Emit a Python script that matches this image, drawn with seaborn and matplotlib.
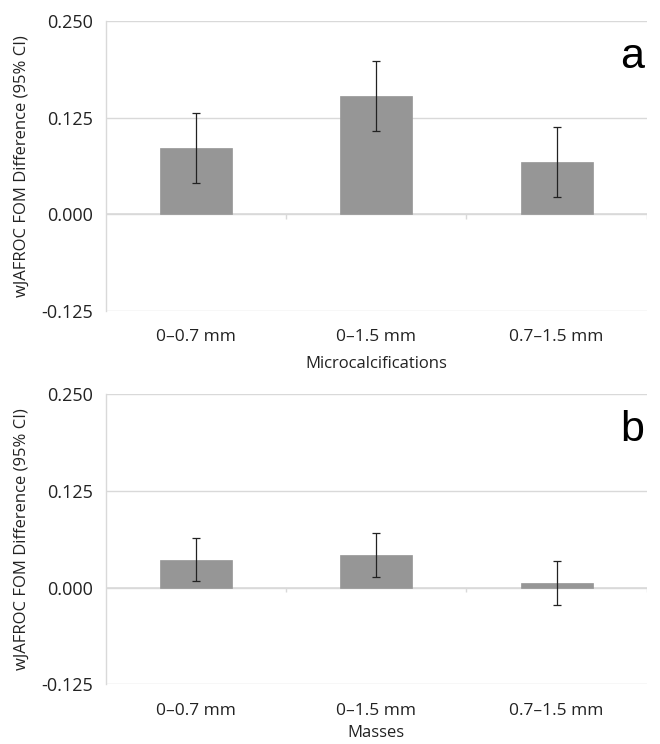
import matplotlib
matplotlib.use("Agg")
import matplotlib.pyplot as plt
import numpy as np
import pandas as pd
import seaborn as sns

# Size ranges (shared by both panels)
categories = ["0\u20130.7 mm", "0\u20131.5 mm", "0.7\u20131.5 mm"]

# Panel a: microcalcifications
calc_fom = [0.0855, 0.1532, 0.0670]
calc_lo = [0.0403, 0.1080, 0.0222]
calc_hi = [0.1308, 0.1984, 0.1131]

# Panel b: masses
mass_fom = [0.0362, 0.0422, 0.0056]
mass_lo = [0.0086, 0.0142, -0.0220]
mass_hi = [0.0641, 0.0711, 0.0344]

yticks = [-0.125, 0.0, 0.125, 0.250]
ytick_labels = ["-0.125", "0.000", "0.125", "0.250"]

sns.set_style("white")
plt.rcParams["font.family"] = ["Open Sans", "DejaVu Sans"]

fig = plt.figure(figsize=(6.6, 7.44), dpi=100)
ax_a = fig.add_axes([0.160, 0.582, 0.820, 0.390])
ax_b = fig.add_axes([0.160, 0.080, 0.820, 0.390])

grid_col = "#d9d9d9"
bar_col = "#969696"


def draw_panel(ax, fom, lo, hi, xlabel, letter, xpad):
    df = pd.DataFrame({"size": categories, "fom": fom})
    sns.barplot(data=df, x="size", y="fom", color=bar_col, width=0.4,
                saturation=1, edgecolor=bar_col, linewidth=0.5, ax=ax, zorder=3)
    x = np.arange(len(categories))
    fom = np.array(fom)
    yerr = [fom - np.array(lo), np.array(hi) - fom]
    ax.errorbar(x, fom, yerr=yerr, fmt="none", ecolor="#222222",
                elinewidth=0.9, capsize=3, capthick=0.9, zorder=4)

    ax.set_xlim(-0.5, 2.5)
    ax.set_ylim(-0.125, 0.250)
    ax.set_yticks(yticks)
    ax.set_yticklabels(ytick_labels)
    ax.yaxis.grid(True, color=grid_col, linewidth=1.0, zorder=0)
    ax.set_axisbelow(True)

    # category axis line at zero with boundary ticks
    ax.axhline(0, color=grid_col, linewidth=1.2, zorder=2)
    ax.vlines([0.5, 1.5, 2.5], -0.006, 0, color=grid_col, linewidth=1.0, zorder=2)

    for s in ["top", "right", "bottom"]:
        ax.spines[s].set_visible(False)
    ax.spines["left"].set_color(grid_col)
    ax.spines["left"].set_linewidth(1.0)

    ax.tick_params(axis="y", length=7, color=grid_col, labelsize=13,
                   labelcolor="#222222", pad=2)
    ax.tick_params(axis="x", length=0, labelsize=12.5, labelcolor="#222222", pad=13)
    ax.set_xlabel(xlabel, fontsize=12, color="#222222", labelpad=xpad)
    ax.set_ylabel("wJAFROC FOM Difference (95% CI)", fontsize=12,
                  color="#222222", labelpad=8)
    ax.text(0.995, 0.945, letter, transform=ax.transAxes, ha="right", va="top",
            fontsize=31, family=["Liberation Sans", "DejaVu Sans"], color="black")


draw_panel(ax_a, calc_fom, calc_lo, calc_hi, "Microcalcifications", "a", 8)
draw_panel(ax_b, mass_fom, mass_lo, mass_hi, "Masses", "b", 5)

fig.savefig("out.png", dpi=100, facecolor="white")
